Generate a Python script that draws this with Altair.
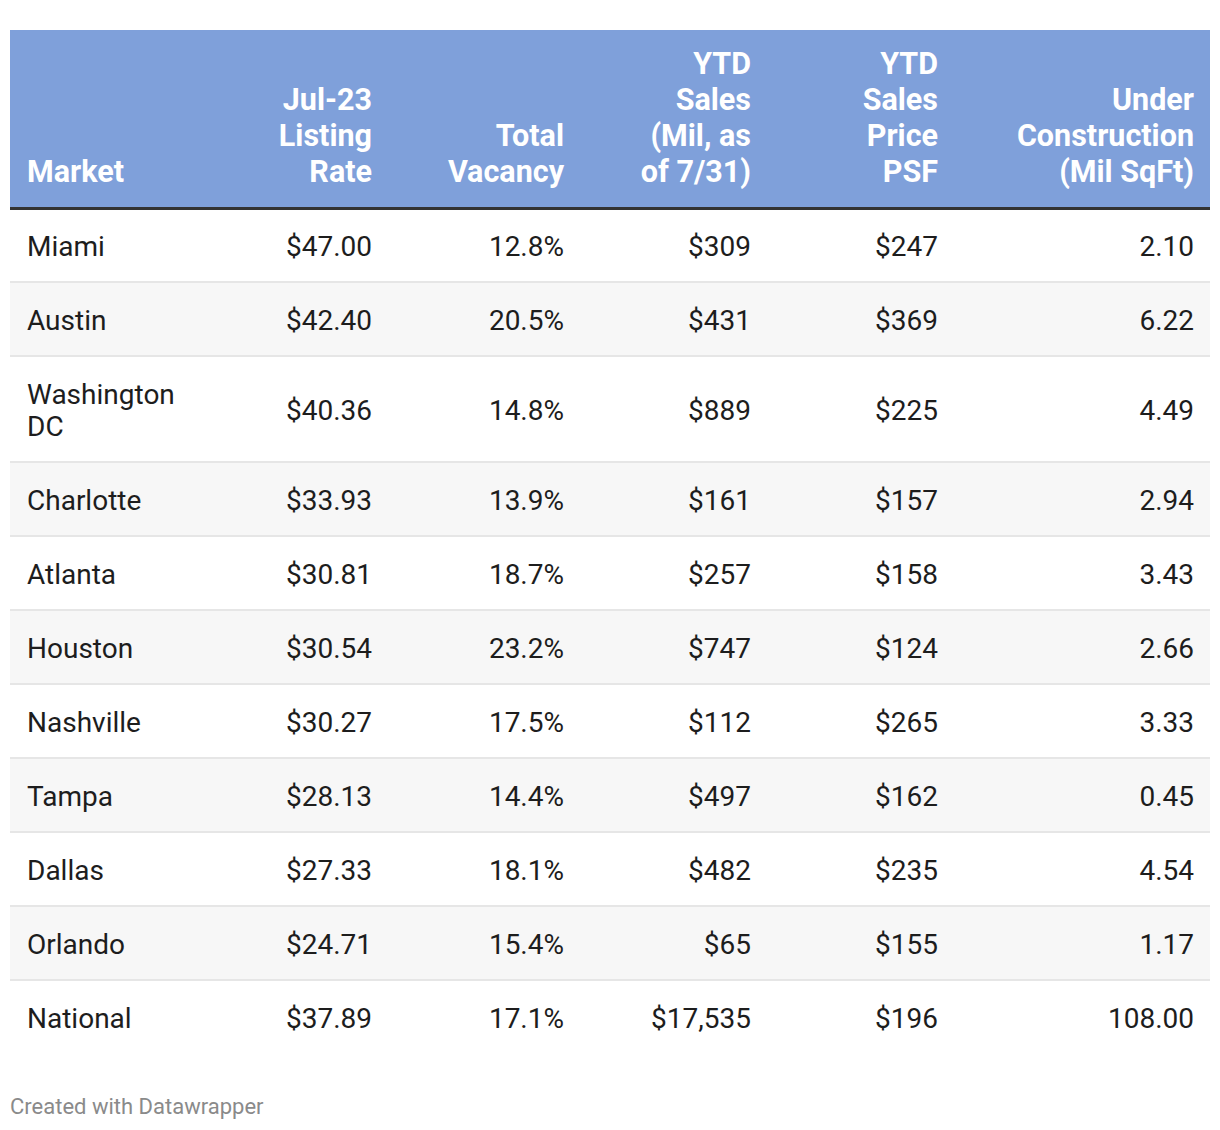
import altair as alt
import pandas as pd

# ---------------- data ----------------
markets = ["Miami", "Austin", "Washington\nDC", "Charlotte", "Atlanta", "Houston",
           "Nashville", "Tampa", "Dallas", "Orlando", "National"]
listing_rate = [47.00, 42.40, 40.36, 33.93, 30.81, 30.54, 30.27, 28.13, 27.33, 24.71, 37.89]
total_vacancy = [12.8, 20.5, 14.8, 13.9, 18.7, 23.2, 17.5, 14.4, 18.1, 15.4, 17.1]
ytd_sales = [309, 431, 889, 161, 257, 747, 112, 497, 482, 65, 17535]
ytd_price_psf = [247, 369, 225, 157, 158, 124, 265, 162, 235, 155, 196]
under_construction = [2.10, 6.22, 4.49, 2.94, 3.43, 2.66, 3.33, 0.45, 4.54, 1.17, 108.00]
headers = ["Market", "Jul-23\nListing\nRate", "Total\nVacancy",
           "YTD\nSales\n(Mil, as\nof 7/31)", "YTD\nSales\nPrice\nPSF",
           "Under\nConstruction\n(Mil SqFt)"]
footer_text = ["Created with Datawrapper"]

# ---------------- layout (page pixels) ----------------
W, H = 1204, 1114
TABLE_L, TABLE_R = 10, 1210
HEAD_T, HEAD_B, RULE_B = 30, 207, 210
ROW0 = 209
BASE_ROW_H, BODY_LH = 74, 32
HEAD_LH = 36
MARKET_X = 27
COL_RIGHT = [372, 564, 751, 938, 1194]
HEADER_LAST_BASE = 182
BODY_FS, HEAD_FS = 28, 30.5
FONT = "Roboto"

xs = alt.Scale(domain=[8, 8 + W], nice=False, zero=False)
ys = alt.Scale(domain=[8, 8 + H], nice=False, zero=False, reverse=True)

def nlines(s):
    return s.count("\n") + 1

# rows
rows = []
top = ROW0
for i, m in enumerate(markets):
    n = nlines(m)
    h = BASE_ROW_H + BODY_LH * (n - 1)
    rows.append(dict(i=i, top=top, bot=top + h, mid=top + h / 2 + 1.5,
                     fill="#ffffff" if i % 2 == 0 else "#f7f7f7",
                     x0=TABLE_L, x1=TABLE_R))
    top += h
rows_df = pd.DataFrame(rows)
border_df = rows_df.iloc[:-1].copy()
border_df["b0"] = border_df["bot"] - 2

fmt_cols = [
    [f"${v:.2f}" for v in listing_rate],
    [f"{v:.1f}%" for v in total_vacancy],
    [f"${v:,.0f}" for v in ytd_sales],
    [f"${v:,.0f}" for v in ytd_price_psf],
    [f"{v:.2f}" for v in under_construction],
]

left_cells = pd.DataFrame([
    dict(x=MARKET_X, y=r["mid"] - BODY_LH * (nlines(markets[r["i"]]) - 1) / 2, t=markets[r["i"]])
    for r in rows])
right_cells = pd.DataFrame([
    dict(x=COL_RIGHT[c], y=rows[r]["mid"], t=fmt_cols[c][r])
    for r in range(len(markets)) for c in range(len(COL_RIGHT))
])

head_df = pd.DataFrame([dict(x0=TABLE_L, x1=TABLE_R, y0=HEAD_T, y1=HEAD_B, f="#7fa0da"),
                        dict(x0=TABLE_L, x1=TABLE_R, y0=HEAD_B, y1=RULE_B, f="#333333")])
head_left = pd.DataFrame([dict(x=MARKET_X, y=HEADER_LAST_BASE, t=headers[0])])
head_right = pd.DataFrame([
    dict(x=COL_RIGHT[c], y=HEADER_LAST_BASE - HEAD_LH * (nlines(headers[c + 1]) - 1),
         t=headers[c + 1])
    for c in range(len(COL_RIGHT))])
foot_df = pd.DataFrame([dict(x=TABLE_L, y=1114, t=footer_text[0])])

X = lambda f: alt.X(f"{f}:Q", scale=xs, axis=None)
Y = lambda f: alt.Y(f"{f}:Q", scale=ys, axis=None)

bg = alt.Chart(rows_df).mark_rect().encode(
    x=X("x0"), x2="x1", y=Y("top"), y2="bot", color=alt.Color("fill:N", scale=None))
borders = alt.Chart(border_df).mark_rect(color="#e6e6e6").encode(
    x=X("x0"), x2="x1", y=Y("b0"), y2="bot")
head = alt.Chart(head_df).mark_rect().encode(
    x=X("x0"), x2="x1", y=Y("y0"), y2="y1", color=alt.Color("f:N", scale=None))

def txt(df, align, baseline, size, color, weight="normal", lh=32):
    return alt.Chart(df).mark_text(
        align=align, baseline=baseline, font=FONT, fontSize=size, color=color,
        fontWeight=weight, lineBreak="\n", lineHeight=lh
    ).encode(x=X("x"), y=Y("y"), text="t:N")

chart = alt.layer(
    bg, borders, head,
    txt(head_left, "left", "alphabetic", HEAD_FS, "#ffffff", "bold", HEAD_LH),
    txt(head_right, "right", "alphabetic", HEAD_FS, "#ffffff", "bold", HEAD_LH),
    txt(left_cells, "left", "middle", BODY_FS, "#1d1d1d", "normal", BODY_LH),
    txt(right_cells, "right", "middle", BODY_FS, "#1d1d1d", "normal", BODY_LH),
    txt(foot_df, "left", "alphabetic", 22, "#8a8a8a"),
).properties(
    width=W, height=H, autosize=alt.AutoSizeParams(type="none"), padding=0
).configure_view(stroke=None)

chart.save("out.html", embed_options={"renderer": "svg", "actions": False})
